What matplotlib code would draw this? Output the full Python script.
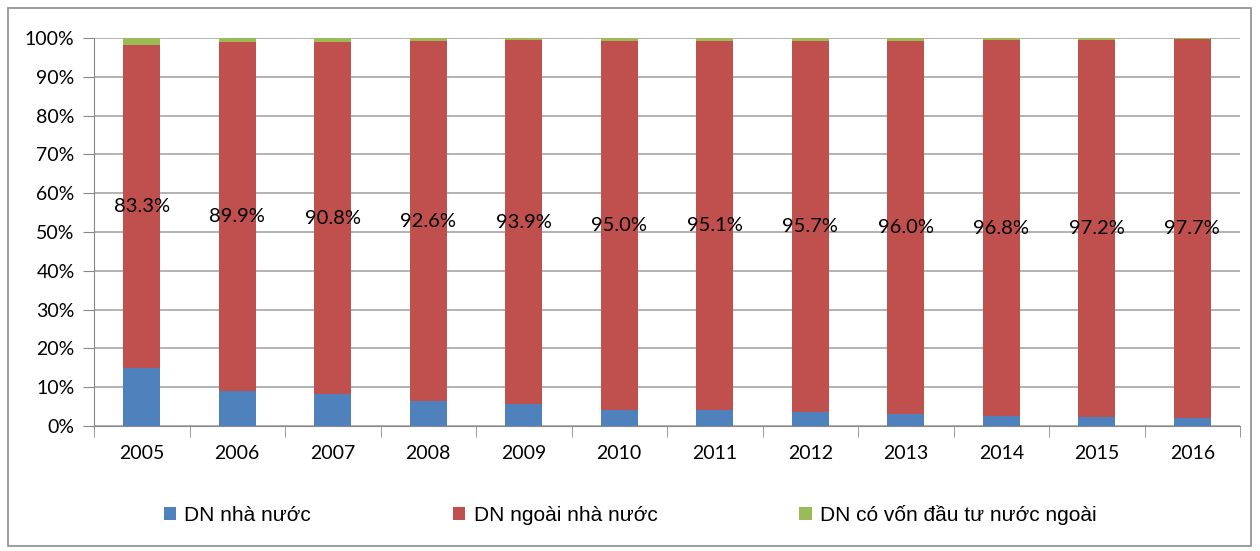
import matplotlib.pyplot as plt
from matplotlib.patches import Rectangle
from matplotlib.ticker import FuncFormatter, FixedLocator
import numpy as np

plt.rcParams['font.family'] = ['Lato', 'DejaVu Sans']

years = ['2005', '2006', '2007', '2008', '2009', '2010',
         '2011', '2012', '2013', '2014', '2015', '2016']
# shares in %
state = [14.9, 9.1, 8.2, 6.5, 5.6, 4.2, 4.2, 3.6, 3.2, 2.6, 2.3, 2.0]
non_state = [83.3, 89.9, 90.8, 92.6, 93.9, 95.0, 95.1, 95.7, 96.0, 96.8, 97.2, 97.7]
fdi = [1.8, 1.0, 1.0, 0.9, 0.5, 0.8, 0.7, 0.7, 0.8, 0.6, 0.5, 0.3]
series_names = ['DN nhà nước', 'DN ngoài nhà nước', 'DN có vốn đầu tư nước ngoài']
colors = ['#4F81BD', '#C0504D', '#9BBB59']

fig = plt.figure(figsize=(12.6, 5.51), dpi=100)
ax = fig.add_axes([94 / 1260, 1 - 426 / 551, 1146 / 1260, 388 / 551])

x = np.arange(len(years))
s = np.array(state) / 100
n = np.array(non_state) / 100
f = np.array(fdi) / 100
w = 0.39
b1 = ax.bar(x, s, w, color=colors[0], label=series_names[0], zorder=3)
b2 = ax.bar(x, n, w, bottom=s, color=colors[1], label=series_names[1], zorder=3)
b3 = ax.bar(x, f, w, bottom=s + n, color=colors[2], label=series_names[2], zorder=3)

for i in range(len(years)):
    ax.text(x[i], s[i] + n[i] / 2, f'{non_state[i]:.1f}%', ha='center', va='center',
            fontsize=14.5, color='black', zorder=4)

ax.set_xlim(-0.5, len(years) - 0.5)
ax.set_ylim(0, 1)
ax.set_yticks(np.arange(0, 1.01, 0.1))
ax.yaxis.set_major_formatter(FuncFormatter(lambda v, p: f'{v * 100:.0f}%'))
ax.set_xticks(x)
ax.set_xticklabels(years)
ax.xaxis.set_minor_locator(FixedLocator(np.arange(-0.5, len(years), 1)))
ax.tick_params(axis='x', which='major', length=0, pad=14, labelsize=14)
ax.tick_params(axis='x', which='minor', length=8, color='#888888', direction='out')
ax.tick_params(axis='y', length=8, color='#888888', labelsize=14, pad=6)
ax.grid(axis='y', color='#A6A6A6', linewidth=1.2, zorder=0)
for sp in ['top', 'right']:
    ax.spines[sp].set_visible(False)
ax.spines['left'].set_color('#888888')
ax.spines['bottom'].set_color('#888888')

fig.legend(handles=[b1, b2, b3], labels=series_names, loc='center',
           bbox_to_anchor=(0.5, 1 - 515 / 551), ncol=3, frameon=False,
           handlelength=0.6, handleheight=0.6, handletextpad=0.4,
           columnspacing=6.8,
           prop={'family': ['Liberation Sans Narrow', 'Liberation Sans', 'DejaVu Sans'], 'size': 15})

fig.patches.append(Rectangle((8 / 1260, 1 - 546 / 551), 1243 / 1260, 538 / 551,
                             transform=fig.transFigure, fill=False,
                             edgecolor='#8C8C8C', linewidth=1.2))

fig.savefig('out.png', dpi=100)
